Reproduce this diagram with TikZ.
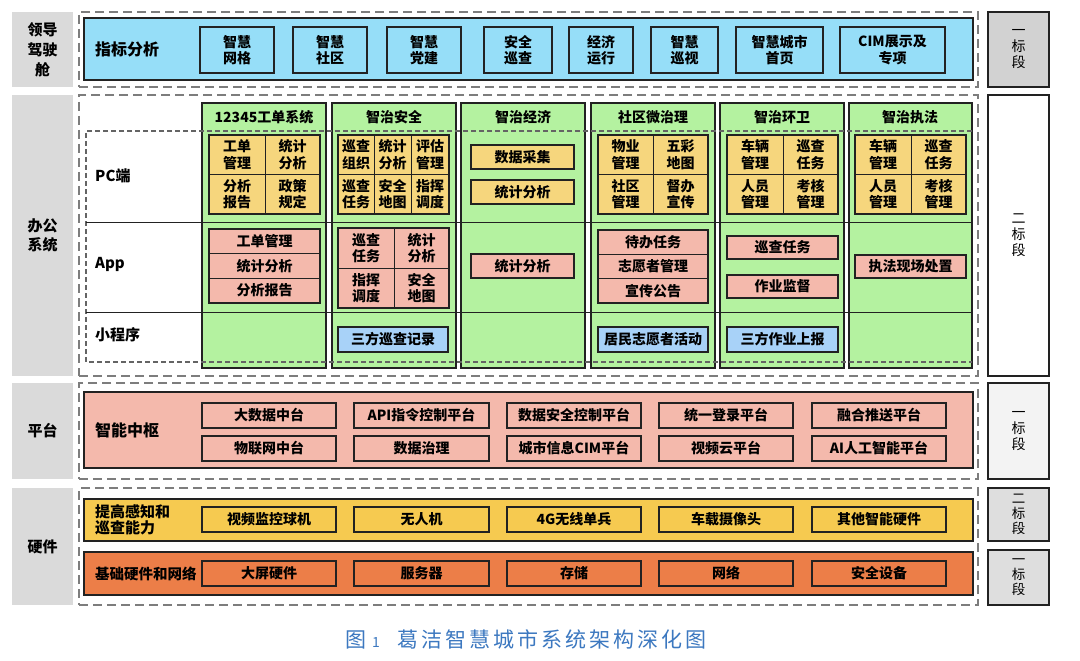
\documentclass[tikz,border=0pt]{standalone}
\usepackage{fontspec}
\setmainfont{Noto Sans CJK SC}
\definecolor{lab}{RGB}{218,218,218}
\definecolor{cock}{RGB}{150,222,248}
\definecolor{grn}{RGB}{180,242,160}
\definecolor{yel}{RGB}{246,214,125}
\definecolor{pnk}{RGB}{244,185,172}
\definecolor{lblu}{RGB}{168,210,248}
\definecolor{hwy}{RGB}{246,202,80}
\definecolor{org}{RGB}{236,126,72}
\definecolor{capb}{RGB}{60,120,192}
\definecolor{edge}{RGB}{34,34,34}
\definecolor{dsh}{RGB}{125,125,125}
\definecolor{rlab}{RGB}{210,210,210}
\definecolor{rlabl}{RGB}{243,243,243}
\definecolor{rlabh}{RGB}{222,222,222}
\newcommand\bx[7]{\node[#2, minimum width=#5pt, minimum height=#6pt] (#1) at (#3,#4) {#7};}
\tikzset{
  base/.style={anchor=north west, inner sep=0pt, outer sep=0pt, align=center},
  cell/.style={base, draw=edge, line width=1pt, font=\fontsize{14}{16.5}\selectfont\bfseries},
  yc/.style={cell, fill=yel},
  pc/.style={cell, fill=pnk},
  bc/.style={cell, fill=lblu, line width=1.3pt},
  item/.style={cell, line width=1.3pt},
  frame/.style={base, draw=edge, line width=1.4pt},
  band/.style={base, draw=edge, line width=1.4pt},
  column/.style={base, draw=edge, line width=1.4pt, fill=grn},
  outerdash/.style={base, draw=dsh, line width=1.2pt, dash pattern=on 9pt off 5pt},
  innerdash/.style={draw=dsh!80!black, line width=1.1pt, dash pattern=on 5pt off 3pt},
  rowline/.style={draw=edge, line width=0.9pt},
  leftlab/.style={base, fill=lab, font=\fontsize{15}{20}\selectfont\bfseries},
  rightlab/.style={base, draw=edge, line width=1.3pt, font=\fontsize{14}{16}\selectfont},
  ttl/.style={inner sep=0pt, font=\fontsize{14}{16}\selectfont\bfseries},
  sidetxt/.style={anchor=west, inner sep=0pt, align=left, font=\fontsize{15}{18}\selectfont\bfseries},
  bandtxt/.style={anchor=west, inner sep=0pt, align=left, font=\fontsize{16}{18}\selectfont\bfseries},
}
\begin{document}
\begin{tikzpicture}[x=1pt,y=-1pt]
\useasboundingbox[fill=white] (0,0) rectangle (1080,661);

% ---------- left labels
\bx{L1}{leftlab}{12}{12}{61}{75}{领导\\驾驶\\舱}
\bx{L2}{leftlab, font=\fontsize{15}{19}\selectfont\bfseries}{12}{95}{61}{281}{办公\\系统}
\bx{L3}{leftlab}{12}{383}{61}{96}{平台}
\bx{L4}{leftlab}{12}{488}{61}{117}{硬件}

% ---------- right labels
\bx{R1}{rightlab, fill=rlab}{988}{12}{61}{75}{一\\标\\段}
\bx{R2}{rightlab, fill=white}{988}{95}{61}{281}{二\\标\\段}
\bx{R3}{rightlab, fill=rlabl}{988}{383}{61}{96}{一\\标\\段}
\bx{R4}{rightlab, fill=rlabh, font=\fontsize{13.5}{15}\selectfont}{988}{488}{61}{53}{二\\标\\段}
\bx{R5}{rightlab, fill=rlabh, font=\fontsize{13.5}{15}\selectfont}{988}{550}{61}{55}{一\\标\\段}

% ---------- cockpit
\bx{F1}{outerdash}{79}{12}{899}{75}{}
\bx{B1}{band, fill=cock}{84}{18}{889}{62}{}
\node[bandtxt] (B1t) at (95,49) {指标分析};
\bx{k1}{item}{200}{27}{74}{46}{智慧\\网格}
\bx{k2}{item}{293}{27}{74}{46}{智慧\\社区}
\bx{k3}{item}{387}{27}{74}{46}{智慧\\党建}
\bx{k4}{item}{484}{27}{68}{46}{安全\\巡查}
\bx{k5}{item}{569}{27}{64}{46}{经济\\运行}
\bx{k6}{item}{651}{27}{67}{46}{智慧\\巡视}
\bx{k7}{item}{736}{27}{87}{46}{智慧城市\\首页}
\bx{k8}{item}{840}{27}{105}{46}{CIM展示及\\专项}

% ---------- office systems
\bx{F2}{outerdash}{79}{95}{899}{281}{}
\bx{C1}{column}{202}{103}{124}{265}{}
\bx{C2}{column}{332}{103}{124}{265}{}
\bx{C3}{column}{461}{103}{124}{265}{}
\bx{C4}{column}{591}{103}{124}{265}{}
\bx{C5}{column}{720}{103}{124}{265}{}
\bx{C6}{column}{849}{103}{123}{265}{}
\node[ttl] (C1t) at (264,117) {12345工单系统};
\node[ttl] (C2t) at (394,117) {智治安全};
\node[ttl] (C3t) at (523,117) {智治经济};
\node[ttl] (C4t) at (653,117) {社区微治理};
\node[ttl] (C5t) at (782,117) {智治环卫};
\node[ttl] (C6t) at (910,117) {智治执法};

% column 1
\bx{a11}{yc}{209}{135}{56}{39.5}{工单\\管理}
\bx{a12}{yc}{265}{135}{55}{39.5}{统计\\分析}
\bx{a21}{yc}{209}{174.5}{56}{39.5}{分析\\报告}
\bx{a22}{yc}{265}{174.5}{55}{39.5}{政策\\规定}
\bx{aF}{frame}{209}{135}{111}{79}{}
\bx{ap1}{pc}{209}{229}{111}{24.7}{工单管理}
\bx{ap2}{pc}{209}{253.7}{111}{24.7}{统计分析}
\bx{ap3}{pc}{209}{278.4}{111}{24.6}{分析报告}
\bx{apF}{frame}{209}{229}{111}{74}{}

% column 2
\bx{b11}{yc}{338}{135}{36}{39.5}{巡查\\组织}
\bx{b12}{yc}{374}{135}{37}{39.5}{统计\\分析}
\bx{b13}{yc}{411}{135}{38}{39.5}{评估\\管理}
\bx{b21}{yc}{338}{174.5}{36}{39.5}{巡查\\任务}
\bx{b22}{yc}{374}{174.5}{37}{39.5}{安全\\地图}
\bx{b23}{yc}{411}{174.5}{38}{39.5}{指挥\\调度}
\bx{bF}{frame}{338}{135}{111}{79}{}
\bx{bp11}{pc}{338}{228}{56}{40}{巡查\\任务}
\bx{bp12}{pc}{394}{228}{55}{40}{统计\\分析}
\bx{bp21}{pc}{338}{268}{56}{40}{指挥\\调度}
\bx{bp22}{pc}{394}{268}{55}{40}{安全\\地图}
\bx{bpF}{frame}{338}{228}{111}{80}{}
\bx{bm}{bc}{338}{327}{110}{25}{三方巡查记录}

% column 3
\bx{c1}{yc, line width=1.3pt}{471}{145}{103}{24}{数据采集}
\bx{c2}{yc, line width=1.3pt}{471}{180}{103}{24}{统计分析}
\bx{cp}{pc, line width=1.3pt}{471}{254}{103}{24}{统计分析}

% column 4
\bx{d11}{yc}{598}{135}{55}{39.5}{物业\\管理}
\bx{d12}{yc}{653}{135}{55}{39.5}{五彩\\地图}
\bx{d21}{yc}{598}{174.5}{55}{39.5}{社区\\管理}
\bx{d22}{yc}{653}{174.5}{55}{39.5}{督办\\宣传}
\bx{dF}{frame}{598}{135}{110}{79}{}
\bx{dp1}{pc}{598}{230}{110}{24.4}{待办任务}
\bx{dp2}{pc}{598}{254.4}{110}{24.3}{志愿者管理}
\bx{dp3}{pc}{598}{278.7}{110}{24.3}{宣传公告}
\bx{dpF}{frame}{598}{230}{110}{73}{}
\bx{dm}{bc}{598}{327}{110}{25}{居民志愿者活动}

% column 5
\bx{e11}{yc}{727}{135}{56}{39.5}{车辆\\管理}
\bx{e12}{yc}{783}{135}{55}{39.5}{巡查\\任务}
\bx{e21}{yc}{727}{174.5}{56}{39.5}{人员\\管理}
\bx{e22}{yc}{783}{174.5}{55}{39.5}{考核\\管理}
\bx{eF}{frame}{727}{135}{111}{79}{}
\bx{ep1}{pc, line width=1.3pt}{727}{236}{111}{23}{巡查任务}
\bx{ep2}{pc, line width=1.3pt}{727}{275}{111}{23}{作业监督}
\bx{em}{bc}{727}{327}{111}{25}{三方作业上报}

% column 6
\bx{f11}{yc}{855}{135}{56}{39.5}{车辆\\管理}
\bx{f12}{yc}{911}{135}{55}{39.5}{巡查\\任务}
\bx{f21}{yc}{855}{174.5}{56}{39.5}{人员\\管理}
\bx{f22}{yc}{911}{174.5}{55}{39.5}{考核\\管理}
\bx{fF}{frame}{855}{135}{111}{79}{}
\bx{fp}{pc, line width=1.3pt}{855}{255}{111}{23}{执法现场处置}

% inner dashed frame and row lines
\coordinate (iTR) at (972,131);
\coordinate (iTL) at (86,131);
\coordinate (iBL) at (86,362);
\coordinate (iBR) at (972,362);
\coordinate (r1L) at (86,222);
\coordinate (r1R) at (972,222);
\coordinate (r2L) at (86,312);
\coordinate (r2R) at (972,312);
\draw[innerdash] (iTR) -- (iTL) -- (iBL) -- (iBR);
\draw[rowline] (r1L) -- (r1R);
\draw[rowline] (r2L) -- (r2R);
\node[sidetxt] (pcl) at (95,176) {PC端};
\node[sidetxt] (appl) at (95,264) {App};
\node[sidetxt] (mpl) at (95,335) {小程序};

% ---------- platform
\bx{F3}{outerdash}{79}{383}{899}{96}{}
\bx{P}{band, fill=pnk}{84}{392}{889}{76}{}
\node[bandtxt] (Pt) at (95,430) {智能中枢};
\bx{p11}{item}{202}{403}{134}{25}{大数据中台}
\bx{p12}{item}{354}{403}{135}{25}{API指令控制平台}
\bx{p13}{item}{507}{403}{134}{25}{数据安全控制平台}
\bx{p14}{item}{659}{403}{134}{25}{统一登录平台}
\bx{p15}{item}{812}{403}{134}{25}{融合推送平台}
\bx{p21}{item}{202}{436}{134}{25}{物联网中台}
\bx{p22}{item}{354}{436}{135}{25}{数据治理}
\bx{p23}{item}{507}{436}{134}{25}{城市信息CIM平台}
\bx{p24}{item}{659}{436}{134}{25}{视频云平台}
\bx{p25}{item}{812}{436}{134}{25}{AI人工智能平台}

% ---------- hardware
\bx{F4}{outerdash}{79}{488}{899}{117}{}
\bx{H1}{band, fill=hwy}{84}{499}{889}{42}{}
\node[bandtxt, font=\fontsize{15}{16}\selectfont\bfseries] (H1t) at (95,520) {提高感知和\\巡查能力};
\bx{h11}{item}{202}{507}{134}{25}{视频监控球机}
\bx{h12}{item}{354}{507}{135}{25}{无人机}
\bx{h13}{item}{507}{507}{134}{25}{4G无线单兵}
\bx{h14}{item}{659}{507}{134}{25}{车载摄像头}
\bx{h15}{item}{812}{507}{134}{25}{其他智能硬件}
\bx{H2}{band, fill=org}{84}{552}{889}{43}{}
\node[bandtxt, font=\fontsize{14.5}{16}\selectfont\bfseries] (H2t) at (95,574) {基础硬件和网络};
\bx{h21}{item}{202}{561}{134}{25}{大屏硬件}
\bx{h22}{item}{354}{561}{135}{25}{服务器}
\bx{h23}{item}{507}{561}{134}{25}{存储}
\bx{h24}{item}{659}{561}{134}{25}{网络}
\bx{h25}{item}{812}{561}{134}{25}{安全设备}

% ---------- caption
\node[anchor=west, inner sep=0pt, text=capb, font=\fontsize{21}{24}\selectfont] (cap) at (345,639)
  {图\hspace{6pt}{\fontsize{14}{14}\selectfont 1}\hspace{18pt}{\addfontfeature{LetterSpace=14}葛洁智慧城市系统架构深化图}};
\end{tikzpicture}
\end{document}
